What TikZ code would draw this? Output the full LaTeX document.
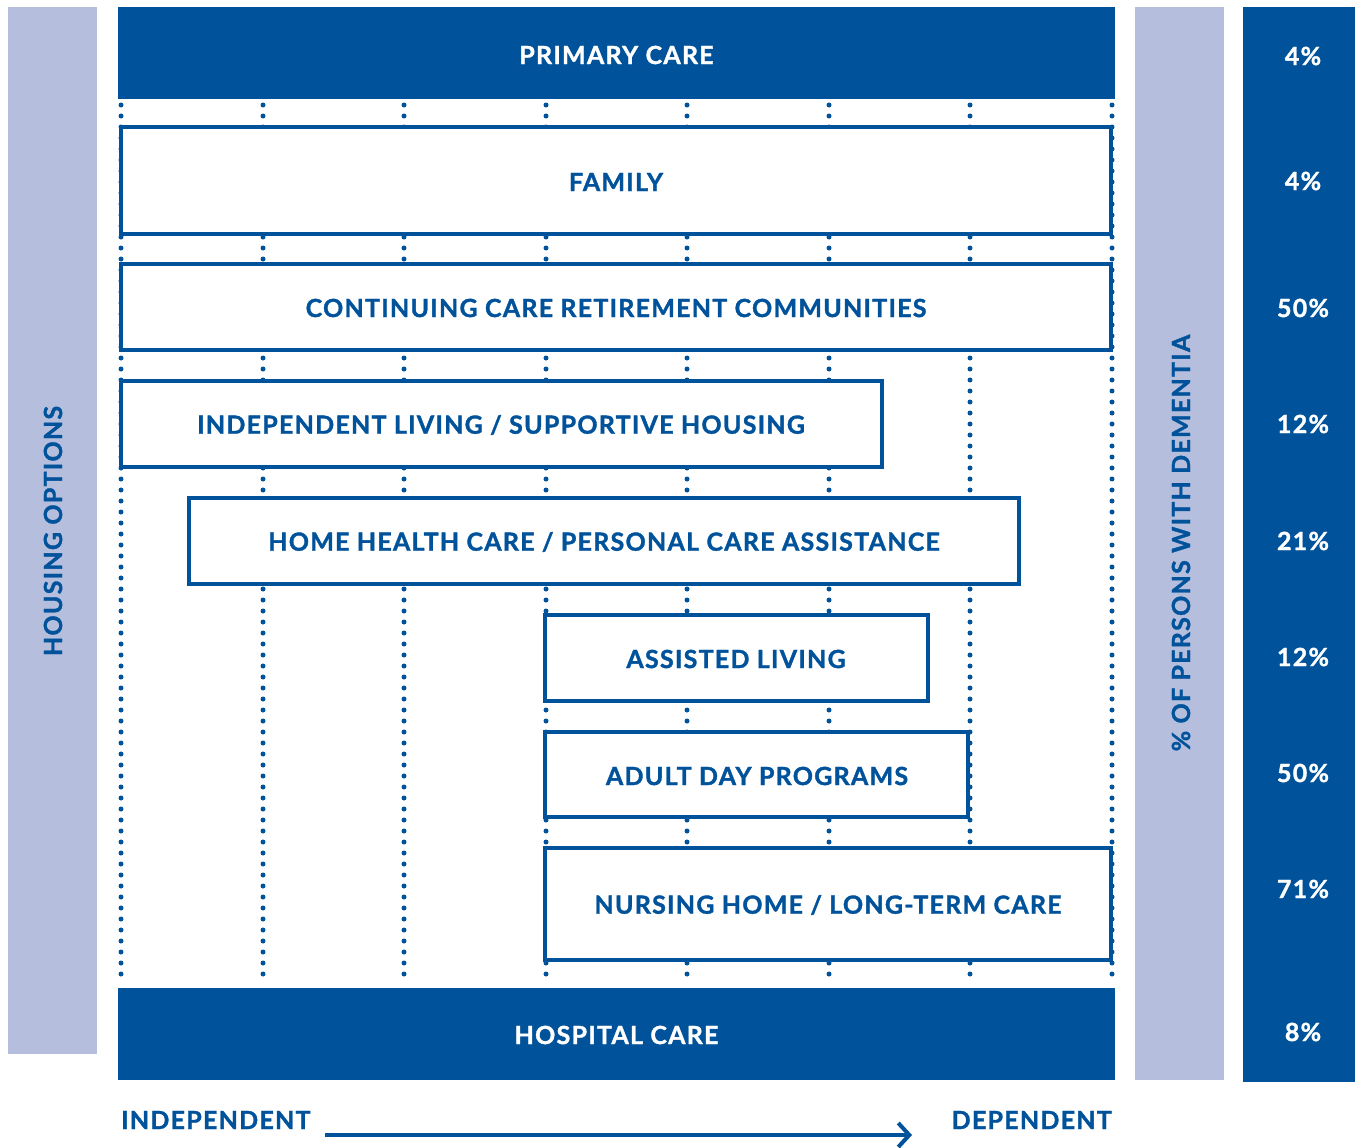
\documentclass[tikz,border=0pt]{standalone}
\usepackage{fontspec}
\setmainfont{Lato}
\newfontfamily\lblfont{Lato}[UprightFont=* Bold, FakeBold=1.3, LetterSpace=5]
\usetikzlibrary{arrows.meta}
\definecolor{cblue}{RGB}{0,82,155}
\definecolor{clav}{RGB}{181,190,221}
\tikzset{
  lbl/.style={font=\lblfont\fontsize{25}{29}\selectfont, text=cblue, inner sep=0pt},
  wlbl/.style={font=\lblfont\fontsize{25}{29}\selectfont, text=white, inner sep=0pt},
  band/.style={fill=cblue, draw=none},
  lavbar/.style={fill=clav, draw=none},
  carebox/.style={draw=cblue, line width=4.5pt, fill=white},
  dotline/.style={draw=cblue, line width=5pt, line cap=round, dash pattern=on 0pt off 11pt},
}
\begin{document}
\begin{tikzpicture}[x=1pt,y=-1pt]
\useasboundingbox (0,0) rectangle (1357,1148);
% side bars
\fill[lavbar] (8,7) rectangle (97,1054);
\fill[lavbar] (1135,7) rectangle (1224,1080);
\fill[band] (1243,7) rectangle (1355,1082);
\node[lbl, rotate=90] (housing) at (53,531) {HOUSING OPTIONS};
\node[lbl, rotate=90] (persons) at (1181,543) {\% OF PERSONS WITH DEMENTIA};
% dotted columns
\foreach \i/\x in {1/121,2/263,3/404,4/546,5/687,6/829,7/970,8/1112} {
  \coordinate (top\i) at (\x,105);
  \coordinate (bot\i) at (\x,984);
  \draw[dotline] (top\i) -- (bot\i);
}
% bands
\fill[band] (118,7) rectangle (1115,99);
\node[wlbl] (primary) at (616.5,55) {PRIMARY CARE};
\fill[band] (118,988) rectangle (1115,1080);
\node[wlbl] (hospital) at (616.5,1035) {HOSPITAL CARE};
% boxes
\draw[carebox] (121,127) rectangle (1111,234);
\node[lbl] (family) at (616,182) {FAMILY};
\draw[carebox] (121,264) rectangle (1111,350);
\node[lbl] (ccrc) at (616,308) {CONTINUING CARE RETIREMENT COMMUNITIES};
\draw[carebox] (121,381) rectangle (882,467);
\node[lbl] (indep) at (501,425) {INDEPENDENT LIVING / SUPPORTIVE HOUSING};
\draw[carebox] (189,498) rectangle (1019,584);
\node[lbl] (home) at (604,542) {HOME HEALTH CARE / PERSONAL CARE ASSISTANCE};
\draw[carebox] (545,615) rectangle (928,701);
\node[lbl] (assisted) at (736,659) {ASSISTED LIVING};
\draw[carebox] (545,732) rectangle (968,817);
\node[lbl] (adult) at (757,776) {ADULT DAY PROGRAMS};
\draw[carebox] (545,848) rectangle (1111,960);
\node[lbl] (nursing) at (828,905) {NURSING HOME / LONG-TERM CARE};
% percentages
\foreach \n/\y/\t in {p1/56/4\%,p2/181/4\%,p3/308/50\%,p4/424/12\%,p5/541/21\%,p6/657/12\%,p7/773/50\%,p8/889/71\%,p9/1032/8\%} {
  \node[wlbl] (\n) at (1303,\y) {\t};
}
% bottom axis
\node[lbl, anchor=west] (indepl) at (121,1120) {INDEPENDENT};
\node[lbl, anchor=east] (depl) at (1112,1120) {DEPENDENT};
\coordinate (as) at (325,1135);
\coordinate (ae) at (912,1135);
\draw[cblue, line width=4pt, -{Straight Barb[length=11pt,width=24pt,line width=4pt]}] (as) -- (ae);
\end{tikzpicture}
\end{document}
